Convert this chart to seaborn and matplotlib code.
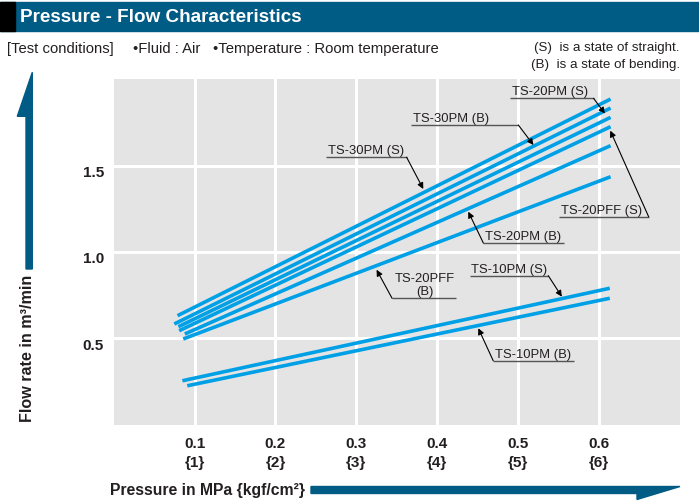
import matplotlib
matplotlib.use("Agg")
import matplotlib.pyplot as plt
import matplotlib.transforms as mtransforms
import seaborn as sns
import pandas as pd
from matplotlib.patches import Polygon, Rectangle

# ---------------- data ----------------
series = ["TS-30PM (S)", "TS-30PM (B)", "TS-20PM (S)", "TS-20PFF (S)",
          "TS-20PM (B)", "TS-20PFF (B)", "TS-10PM (S)", "TS-10PM (B)"]
start_pressure = [0.079, 0.075, 0.080, 0.081, 0.088, 0.086, 0.085, 0.091]
start_flow = [0.631, 0.583, 0.567, 0.544, 0.525, 0.496, 0.254, 0.225]
end_pressure = [0.614, 0.614, 0.614, 0.614, 0.614, 0.614, 0.613, 0.613]
end_flow = [1.886, 1.834, 1.780, 1.726, 1.616, 1.436, 0.790, 0.732]

x_ticks = [0.1, 0.2, 0.3, 0.4, 0.5, 0.6]
x_tick_labels = ["0.1\n{1}", "0.2\n{2}", "0.3\n{3}", "0.4\n{4}", "0.5\n{5}", "0.6\n{6}"]
y_ticks = [0.5, 1.0, 1.5]
y_tick_labels = ["0.5", "1.0", "1.5"]

rows = []
for s, p0, f0, p1, f1 in zip(series, start_pressure, start_flow, end_pressure, end_flow):
    rows.append({"series": s, "pressure": p0, "flow": f0})
    rows.append({"series": s, "pressure": p1, "flow": f1})
df = pd.DataFrame(rows)

# ---------------- style ----------------
sns.set_style("darkgrid", {"axes.facecolor": "#e4e4e4", "grid.color": "white"})
plt.rcParams["font.family"] = ["Liberation Sans", "DejaVu Sans"]

BLUE = "#00a0e6"
DARK = "#005b85"
INK = "#231f20"

W, H = 699, 502
fig = plt.figure(figsize=(W / 100, H / 100), dpi=100)

def fx(px):
    return px / W

def fy(py):
    return 1 - py / H

ax = fig.add_axes([fx(113.6), fy(425.6), 566.6 / W, 345.2 / H])

sns.lineplot(data=df, x="pressure", y="flow", hue="series", palette=[BLUE] * len(series),
             legend=False, linewidth=2.6, sort=False, estimator=None, ax=ax,
             solid_capstyle="butt")

ax.set_xlim(0, 0.7)
ax.set_ylim(0, 2.0)
ax.set_xticks(x_ticks)
ax.set_xticklabels(x_tick_labels, fontweight="bold", fontsize=11, linespacing=1.45, color=INK)
ax.set_yticks(y_ticks)
ax.set_yticklabels(y_tick_labels, fontweight="bold", fontsize=11, color=INK)
ax.tick_params(length=0, pad=7)
ax.tick_params(axis="x", pad=8)
shift = mtransforms.ScaledTranslation(0, -5 / 100, fig.dpi_scale_trans)
for lab in ax.get_yticklabels():
    lab.set_transform(lab.get_transform() + shift)
ax.grid(True, color="white", linewidth=2.2)
ax.set_xlabel("")
ax.set_ylabel("")
for sp in ax.spines.values():
    sp.set_visible(False)

# ---------------- callouts ----------------
ANN = dict(fontsize=9.4, color=INK)

def callout(text, x0, x1, y, tip, from_right, ha="left", tx=None):
    ax.plot([x0, x1], [y, y], color="#555555", lw=1.0, solid_capstyle="butt")
    if tx is None:
        tx = x0
    ax.annotate(text, xy=(tx, y), xytext=(1 if ha == "left" else 0, 0.8),
                textcoords="offset points", ha=ha, va="bottom",
                multialignment="center", linespacing=1.1, **ANN)
    start = (x1, y) if from_right else (x0, y)
    ax.annotate("", xy=tip, xytext=start,
                arrowprops=dict(arrowstyle="-|>", color="black", lw=0.8,
                                mutation_scale=9, shrinkA=0, shrinkB=0))

callout("TS-20PM (S)", 0.490, 0.593, 1.890, (0.607, 1.802), True)
callout("TS-30PM (B)", 0.368, 0.500, 1.736, (0.5187, 1.620), True)
callout("TS-30PM (S)", 0.2627, 0.362, 1.549, (0.3826, 1.365), True)
callout("TS-20PFF (S)", 0.5505, 0.661, 1.2045, (0.6136, 1.703), True)
callout("TS-20PM (B)", 0.4568, 0.5567, 1.052, (0.4382, 1.2335), False)
callout("TS-20PFF\n(B)", 0.344, 0.423, 0.732, (0.3249, 0.897), False, ha="center", tx=0.385)
callout("TS-10PM (S)", 0.4403, 0.537, 0.863, (0.5538, 0.741), True)
callout("TS-10PM (B)", 0.469, 0.569, 0.370, (0.4506, 0.558), False)

# ---------------- header ----------------
fig.patches.append(Rectangle((0, fy(32)), 1, 29 / H, transform=fig.transFigure,
                             color=DARK, zorder=0))
fig.patches.append(Rectangle((0, fy(32)), fx(15), 29 / H, transform=fig.transFigure,
                             color="black", zorder=1))
fig.text(fx(20), fy(18), "Pressure - Flow Characteristics", color="white",
         fontsize=13.6, fontweight="bold", va="center", ha="left")

fig.text(fx(7), fy(49), "[Test conditions]", fontsize=10.7, va="center", ha="left", color=INK)
fig.text(fx(133), fy(49), "•Fluid : Air", fontsize=10.7, va="center", ha="left", color=INK)
fig.text(fx(213), fy(49), "•Temperature : Room temperature", fontsize=10.7,
         va="center", ha="left", color=INK)
fig.text(fx(680), fy(48), "(S)  is a state of straight.", fontsize=9.6, va="center",
         ha="right", color=INK)
fig.text(fx(680), fy(65), "(B)  is a state of bending.", fontsize=9.6, va="center",
         ha="right", color=INK)

# ---------------- axis titles with arrows ----------------
fig.text(fx(27), fy(348), "Flow rate in m³/min", rotation=90, fontsize=11.6,
         fontweight="bold", va="center", ha="center", color=INK)
yarrow = [(32.3, 73.3), (17.3, 117.3), (26, 117.3), (26, 270), (32.3, 270)]
fig.patches.append(Polygon([(fx(a), fy(b)) for a, b in yarrow], closed=True,
                           transform=fig.transFigure, color=DARK))

fig.text(fx(110), fy(491), "Pressure in MPa {kgf/cm²}", fontsize=11.3,
         fontweight="bold", va="center", ha="left", color=INK)
xarrow = [(311, 487.5), (680, 487.5), (637, 500.5), (637, 494.5), (311, 494.5)]
fig.patches.append(Polygon([(fx(a), fy(b)) for a, b in xarrow], closed=True,
                           transform=fig.transFigure, color=DARK))

fig.savefig("out.png", dpi=100)
